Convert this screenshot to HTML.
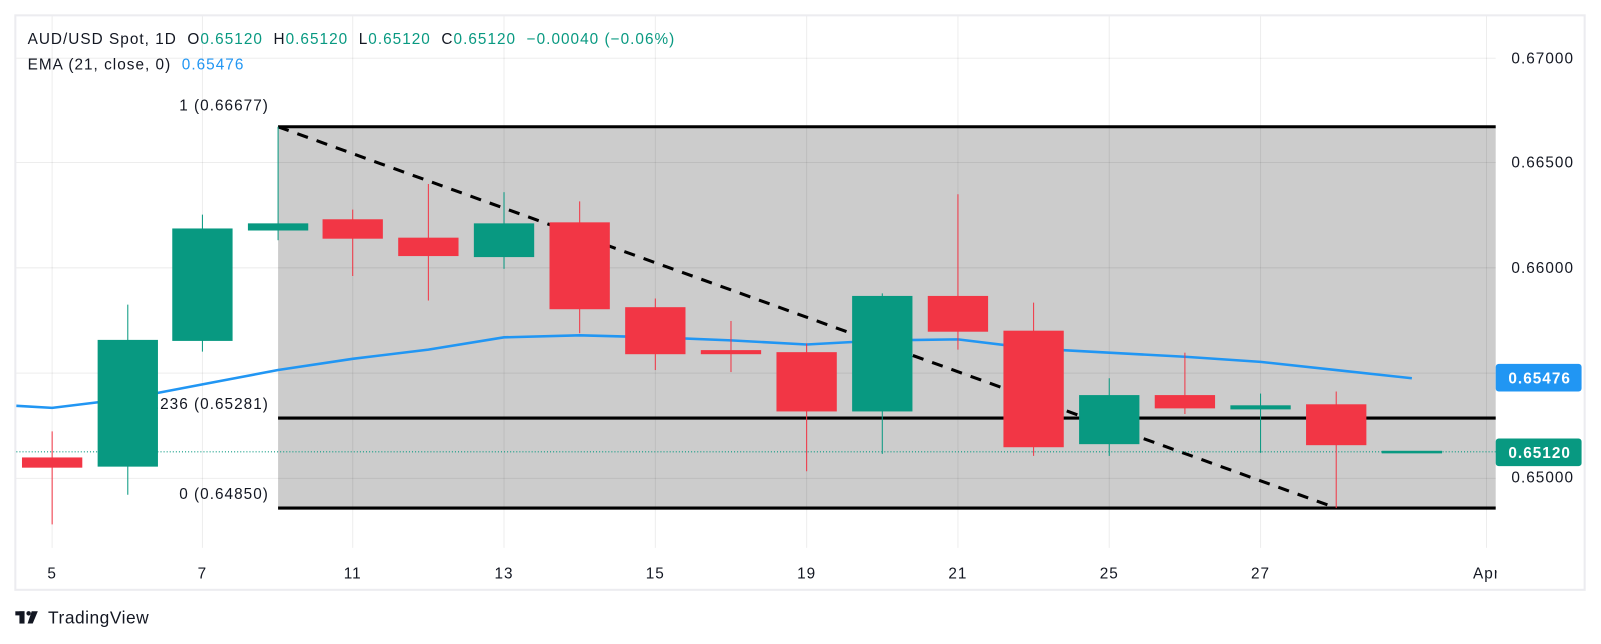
<!DOCTYPE html>
<html><head><meta charset="utf-8"><style>
html,body{margin:0;padding:0;background:#fff;}
svg{display:block;}
text{font-family:"Liberation Sans",sans-serif;letter-spacing:1px;}
</style></head><body>
<svg width="1601" height="644" viewBox="0 0 1566 630" preserveAspectRatio="none" xmlns="http://www.w3.org/2000/svg">
<rect x="0" y="0" width="1566" height="630" fill="#fff"/>
<rect x="15" y="15" width="1535" height="562" fill="#fff" stroke="#ececf0" stroke-width="2"/>
<rect x="272" y="124" width="1191" height="373" fill="#cccccc"/>
<g stroke="#000" stroke-opacity="0.07" stroke-width="1">
<line x1="16" y1="57" x2="1463" y2="57"/>
<line x1="16" y1="159" x2="1463" y2="159"/>
<line x1="16" y1="262" x2="1463" y2="262"/>
<line x1="16" y1="365" x2="1463" y2="365"/>
<line x1="16" y1="468" x2="1463" y2="468"/>
<line x1="51" y1="16" x2="51" y2="536"/>
<line x1="198" y1="16" x2="198" y2="536"/>
<line x1="345" y1="16" x2="345" y2="536"/>
<line x1="493" y1="16" x2="493" y2="536"/>
<line x1="641" y1="16" x2="641" y2="536"/>
<line x1="789" y1="16" x2="789" y2="536"/>
<line x1="937" y1="16" x2="937" y2="536"/>
<line x1="1085" y1="16" x2="1085" y2="536"/>
<line x1="1233" y1="16" x2="1233" y2="536"/>
<line x1="1454" y1="16" x2="1454" y2="536"/>
</g>
<g stroke="#000" stroke-width="3">
<line x1="272" y1="124" x2="1463" y2="124"/>
<line x1="272" y1="409" x2="1463" y2="409"/>
<line x1="272" y1="497" x2="1463" y2="497"/>
</g>
<line x1="272" y1="124" x2="1307" y2="497" stroke="#000" stroke-width="3" stroke-dasharray="11,9"/>
<g font-size="15" fill="#131722" text-anchor="end">
<text x="263" y="108">1 (0.66677)</text>
<text x="263" y="400">0.236 (0.65281)</text>
<text x="263" y="488">0 (0.64850)</text>
</g>
<line x1="16" y1="442" x2="1463" y2="442" stroke="#089981" stroke-width="1" stroke-dasharray="1,2"/>
<polyline fill="none" stroke="#2196f3" stroke-width="2.5" points="16,397 51,399 125,390 198,376 272,362 345,351 419,342 493,330 567,328 641,330 715,333 789,337 863,333 937,332 1011,341 1085,345 1159,349 1233,354 1307,362 1381,370"/>
<g stroke-width="1">
<g stroke="#f23645" fill="#f23645">
<line x1="51" y1="422" x2="51" y2="513"/><rect x="22" y="448" width="58" height="9"/>
<line x1="345" y1="205" x2="345" y2="270"/><rect x="316" y="215" width="58" height="18"/>
<line x1="419" y1="180" x2="419" y2="294"/><rect x="390" y="233" width="58" height="17"/>
<line x1="567" y1="197" x2="567" y2="326"/><rect x="538" y="218" width="58" height="84"/>
<line x1="641" y1="292" x2="641" y2="362"/><rect x="612" y="301" width="58" height="45"/>
<line x1="715" y1="314" x2="715" y2="364"/><rect x="686" y="343" width="58" height="3"/>
<line x1="789" y1="336" x2="789" y2="461"/><rect x="760" y="345" width="58" height="57"/>
<line x1="937" y1="190" x2="937" y2="342"/><rect x="908" y="290" width="58" height="34"/>
<line x1="1011" y1="296" x2="1011" y2="446"/><rect x="982" y="324" width="58" height="113"/>
<line x1="1159" y1="345" x2="1159" y2="405"/><rect x="1130" y="387" width="58" height="12"/>
<line x1="1307" y1="383" x2="1307" y2="497"/><rect x="1278" y="396" width="58" height="39"/>
</g>
<g stroke="#089981" fill="#089981">
<line x1="125" y1="298" x2="125" y2="484"/><rect x="96" y="333" width="58" height="123"/>
<line x1="198" y1="210" x2="198" y2="344"/><rect x="169" y="224" width="58" height="109"/>
<line x1="272" y1="124" x2="272" y2="235"/><rect x="243" y="219" width="58" height="6"/>
<line x1="493" y1="188" x2="493" y2="263"/><rect x="464" y="219" width="58" height="32"/>
<line x1="863" y1="287" x2="863" y2="444"/><rect x="834" y="290" width="58" height="112"/>
<line x1="1085" y1="370" x2="1085" y2="446"/><rect x="1056" y="387" width="58" height="47"/>
<line x1="1233" y1="385" x2="1233" y2="443"/><rect x="1204" y="397" width="58" height="3"/>
<rect x="1352" y="441.5" width="58" height="1.5"/>
</g>
</g>
<g font-size="15" fill="#131722" text-anchor="middle">
<text x="1509" y="62">0.67000</text>
<text x="1509" y="164">0.66500</text>
<text x="1509" y="267">0.66000</text>
<text x="1509" y="472">0.65000</text>
</g>
<rect x="1463" y="356" width="84" height="27" rx="3" fill="#2196f3"/>
<text x="1506" y="375" font-size="15" font-weight="bold" fill="#fff" text-anchor="middle">0.65476</text>
<rect x="1463" y="429" width="84" height="27" rx="3" fill="#089981"/>
<text x="1506" y="448" font-size="15" font-weight="bold" fill="#fff" text-anchor="middle">0.65120</text>
<g font-size="15" fill="#131722" text-anchor="middle">
<text x="51" y="566">5</text>
<text x="198" y="566">7</text>
<text x="345" y="566">11</text>
<text x="493" y="566">13</text>
<text x="641" y="566">15</text>
<text x="789" y="566">19</text>
<text x="937" y="566">21</text>
<text x="1085" y="566">25</text>
<text x="1233" y="566">27</text>
<text x="1454" y="566">Apr</text>
</g>
<rect x="1464" y="545" width="40" height="30" fill="#fff"/>
<text x="27" y="43" font-size="15" fill="#131722" xml:space="preserve">AUD/USD Spot, 1D  O<tspan fill="#089981">0.65120</tspan>  H<tspan fill="#089981">0.65120</tspan>  L<tspan fill="#089981">0.65120</tspan>  C<tspan fill="#089981">0.65120  −0.00040 (−0.06%)</tspan></text>
<text x="27" y="68" font-size="15" fill="#131722" xml:space="preserve">EMA (21, close, 0)  <tspan fill="#2196f3">0.65476</tspan></text>
<g fill="#131722">
<rect x="15" y="598" width="9" height="4"/><rect x="19" y="598" width="5" height="12"/>
<circle cx="28" cy="600" r="2.2"/>
<polygon points="31,598 37,598 32,610 27,610"/>
</g>
<text x="47" y="610" font-size="17" fill="#131722" style="letter-spacing:0.5px">TradingView</text>
</svg>
</body></html>
